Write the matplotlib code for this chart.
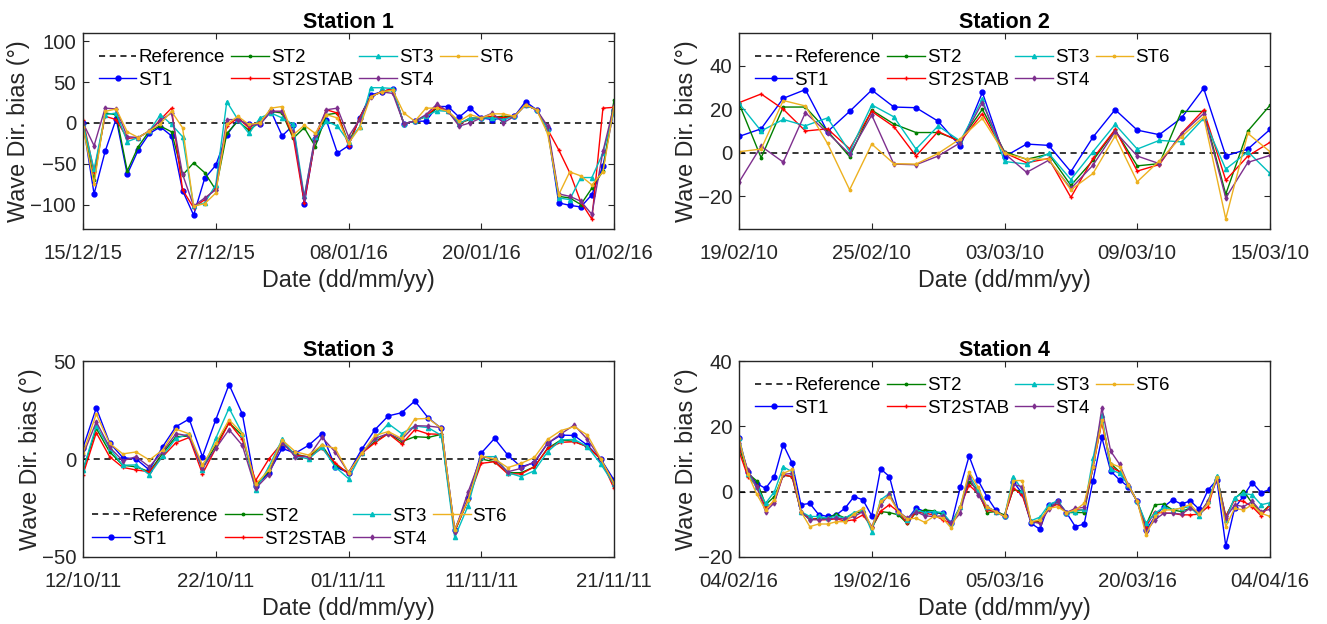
import numpy as np
import pandas as pd
import matplotlib
matplotlib.use('Agg')
import matplotlib.pyplot as plt
import matplotlib.dates as mdates

plt.rcParams['font.family'] = ['Liberation Sans', 'DejaVu Sans']

# ---- Station 1 (daily, 15/12/15 - 01/02/16) ----
s1_start = '2015-12-15'
s1_st1 = [0, -87, -35, 5, -63, -33, -13, -5, -16, -83, -113, -68, -52, -15, 4, -2, -1, 14, -16, -3,
          -99, -20, 3, -37, -28, 6, 34, 38, 42, -1, 2, 2, 20, 20, 7, 18, 6, 4, 6, 8,
          26, 16, -8, -98, -101, -103, -88, -53, 16]
s1_st2 = [-2, -70, 12, 10, -59, -29, -10, -4, -11, -64, -49, -61, -82, -13, 2, -9, 1, 14, 12, -19,
          -6, -29, 10, 12, -25, 6, 32, 38, 40, -1, 2, 8, 18, 14, 0, 4, 6, 7, 8, 8,
          22, 16, -8, -90, -92, -100, -80, -59, 28]
s1_st2stab = [4, -60, 8, 4, -19, -18, -10, 4, 18, -82, -104, -94, -80, -4, 6, -6, 2, 14, 14, -17,
              -98, -20, 16, 12, -28, 6, 32, 38, 42, -1, 2, 8, 20, 14, -2, 6, 6, 8, 6, 8,
              22, 16, -8, -33, -61, -97, -118, 18, 19]
s1_st3 = [-1, -57, 10, 12, -23, -18, -10, 10, -2, -17, -102, -98, -76, 26, 4, -13, 6, 12, 6, -2,
          -90, -17, 2, -4, -23, -5, 43, 43, 42, -1, 2, 8, 15, 14, -1, 6, 6, 6, 4, 8,
          22, 16, -8, -92, -94, -67, -67, -37, 14]
s1_st4 = [0, -28, 18, 17, -17, -18, -10, 3, 12, -63, -102, -92, -82, 4, 4, -3, -2, 14, 14, -11,
          -92, -15, 16, 18, -17, 4, 32, 38, 36, -1, 2, 10, 23, 14, -4, 0, 6, 12, 0, 8,
          22, 16, -4, -87, -90, -96, -112, -35, 21]
s1_st6 = [-5, -75, 14, 17, -11, -18, -10, -1, 14, -6, -102, -99, -86, -2, 8, -2, 0, 18, 20, -15,
          -3, -13, 10, 6, -25, -6, 32, 38, 40, 12, 2, 18, 18, 14, 2, 10, 6, 11, 11, 8,
          22, 16, -13, -88, -60, -65, -76, -60, 20]

# ---- Station 2 (daily, 19/02/10 - 15/03/10) ----
s2_start = '2010-02-19'
s2_st1 = [7.5, 11, 25, 29, 9.7, 19, 28.8, 21, 20.7, 14.5, 3, 27.7, -1.8, 4, 3.4, -8.7, 7.2, 19.8,
          10.4, 8.3, 16, 29.6, -1.4, 1.7, 10.7]
s2_st2 = [22.7, -2.3, 21, 21, 10, -1.8, 19.6, 13.2, 9.3, 9.3, 5.5, 20, 0.5, -3, -0.6, -15, -3.5,
          10.4, -6, -5, 19, 19, -19, 10, 21.8]
s2_st2stab = [23, 27, 20, 10, 11, 1.8, 19, 12, -1.5, 9.8, 5, 18, 0, -4.6, -2.6, -20.5, -2.6, 10.7,
              -8.4, -5.4, 8.9, 19.6, -12.6, -1.5, 4.8]
s2_st3 = [22.7, 10, 15.3, 12.4, 16, 0.5, 22, 16.5, 1.7, 12.3, 5.4, 24.5, -4, -5.2, -0.3, -12.3, 0.5,
          13, 1.7, 5.7, 5, 15.8, -7.5, 0.5, -9.5]
s2_st4 = [-13.5, 3, -4.3, 18.4, 9.2, -0.6, 17.3, -5.2, -5.5, -1.5, 4.6, 23, -0.3, -9, -3.4, -16.4,
          -5.7, 9.7, -1.5, -5, 8.6, 18, -20.7, -4.4, -1.2]
s2_st6 = [0.5, 1.7, 24, 21.5, 4.3, -17, 4, -5, -5.2, -0.3, 6.4, 15.8, -0.3, -2.8, -3, -17, -9.5,
          7.7, -13.3, -3.7, 7.4, 16.5, -30.3, 8.9, 0.5]

# ---- Station 3 (daily, 12/10/11 - 21/11/11) ----
s3_start = '2011-10-12'
s3_st1 = [5.8, 26, 8.3, 0.7, 0, -5.6, 6.3, 16.5, 20.4, 1.2, 20, 38, 23, -14, -7, 5.4, 3, 7, 13, -4,
          -7, 5, 15, 22, 23.6, 29.6, 21, 15.6, -36, -20, 3, 10.5, 2, -4, -1.9, 8, 12.2, 12, 7, 0, -10.7]
s3_st2 = [-6, 15.6, 3.7, -3.2, -4, -6.5, 2.9, 11.4, 11.7, -4.8, 7, 18.5, 12, -14, -6, 8, 2.4, 1, 7, -3,
          -7, 3, 9, 13, 8.8, 11.4, 11, 12.6, -37, -21, 0, -1.4, -7, -7, -4, 5.4, 9.7, 9, 6.3, 0, -12.5]
s3_st2stab = [-8, 13.4, 1.2, -4.3, -5.6, -6.5, 1.2, 8.3, 11, -7.6, 5.4, 18.5, 10, -11, 0, 8.3, 2, 1,
              5.4, -2, -7.6, 3, 8.3, 13, 7.6, 15, 12.8, 12.6, -37, -21, -2.2, -1.4, -7.6, -7.6, -4,
              5.4, 8.5, 8.8, 6.3, 0, -15]
s3_st3 = [-5.6, 17, 5.4, -3.2, -3, -8, 1.5, 10.5, 12.8, -5.6, 10.5, 26, 13, -16, -4, 10, 1.5, 0, 6, -4,
          -10, 3, 10.5, 18, 13, 16.8, 16, 12, -40, -24, 1.2, 1.2, -7, -9, -6, 3.7, 9.7, 10, 6.3, -2.5, -13]
s3_st4 = [2, 19, 6, -0.9, 1.2, -4, 3.7, 13, 11.7, -4.8, 5.4, 15, 7, -15, -8, 8.5, 1.2, 1.2, 11, 3.6,
          -7, 3, 10.5, 13, 10, 17, 16.8, 16, -37, -17, 1.2, 0, -6.5, -4.8, -1.4, 8, 12.8, 17.3, 10, 0, -12.5]
s3_st6 = [3, 23, 8, 2.6, 3.6, -0.5, 4.6, 15.3, 12.8, -3, 8, 20, 13, -13, -5.6, 9.7, 3.7, 2, 7, 5.4,
          -7, 3, 12, 14, 10.5, 20.4, 20.7, 15.6, -36, -21, 1.5, 0, -4.4, -2.2, 0.8, 10, 14.5, 16.5, 12.2,
          0, -12.4]

# ---- Station 4 (daily, 04/02/16 - 04/04/16) ----
s4_start = '2016-02-04'
s4_st1 = [16.3, 6, 2.5, 1, 4.6, 14.4, 8.8, -4, -3.6, -7, -7.6, -7.1, -5, -1.5, -2.5, -7.4, 7, 4.6, -5.8,
          -8.6, -5, -6.1, -6.4, -6.6, -9.7, 1.3, 10.9, 3.6, -1.5, -5.6, -7.6, 3, -0.5, -9.7, -11.5, -4,
          -3, -6.4, -10.7, -9.9, 3.4, 16.6, 6.3, 3.6, 1.5, -3, -11.7, -7.6, -4.6, -2.5, -3.8, -2.8, -5.4,
          0.5, 3.6, -16.6, -5.1, -1.3, 2.8, -0.3, 0.7]
s4_st2 = [13.7, 5.6, 3.3, -4, -1.5, 5.1, 4.6, -6.1, -8.6, -8.1, -8.1, -6.9, -8.1, -6.6, -6.1, -11.2, -6.1,
          -6.4, -7.1, -9.7, -6.4, -5.6, -5.9, -7, -9.7, -4.6, 3, 0.5, -6.4, -6.1, -7.1, 0.7, 0, -9.2, -9.2,
          -4.6, -3.6, -6.4, -6.4, -6.4, 7.6, 21.9, 8.6, 6.1, 2, -3, -10.2, -4, -3.8, -5.6, -6.1, -5, -6.9,
          -3, 4.6, -7.6, -2.2, 0.3, -3.6, -6.6, -4]
s4_st2stab = [12.4, 4.6, 1.8, -5.1, -3, 5.1, 4.6, -6.1, -8.1, -8.6, -8.6, -8.3, -9, -8.6, -7.1, -10.9, -6,
              -4, -6.1, -9.7, -6.1, -6.6, -7.1, -8.6, -9.7, -4.6, 2, -0.5, -5.6, -6.1, -7.6, 1, -1, -9.2,
              -9.4, -5.1, -3.8, -6.4, -5.6, -5.6, 7.6, 21.4, 7.6, 6.1, 2, -3, -10.7, -6.1, -6.6, -6.6, -7.1,
              -7.1, -6.9, -4.6, 4.6, -7.6, -2.5, -3, -4.6, -7.4, -4]
s4_st3 = [16.3, 5.5, 1.5, -3.6, 0, 7.6, 6.1, -6.1, -7.6, -7.6, -8.1, -7.5, -8.1, -6.4, -5.6, -12.2, -2.5,
          -0.5, -6.1, -8.6, -5.6, -6.4, -6.1, -6.4, -9.7, -4.6, 5.1, 0.5, -4.6, -6.1, -7.6, 4.6, 0.5, -8.9,
          -7.8, -4, -2.8, -6.4, -6.1, -5.4, 10.2, 23.4, 6.8, 5.6, 2, -3, -9.7, -6.6, -4.8, -5.6, -5, -4.6,
          -7.6, -3, 4.8, -8.6, -1.8, -0.5, -1, -4, -3.4]
s4_st4 = [14.8, 6.6, 1.5, -6.1, -3.4, 5.3, 5.6, -6.1, -8.6, -8.6, -8.4, -8.1, -8.4, -7.6, -6.1, -10.7, -4,
          -0.7, -6.1, -8.1, -6.1, -7.4, -7.6, -7.4, -9.7, -6.6, 4.6, -1, -4.6, -6.1, -7.6, 2.3, 1.5, -9.2,
          -9.7, -5.4, -3, -6.4, -5.1, -4.8, 7.6, 25.6, 12.4, 8.4, 2, -3, -12.2, -8.6, -6.6, -6.6, -6.9, -5,
          -6.6, -3, 3.6, -8.1, -4, -4.6, -3, -6.1, -5.4]
s4_st6 = [16.3, 5.4, -0.7, -5.6, -2.5, 5.6, 6.8, -6.1, -10.7, -9.9, -9.9, -9.2, -9.2, -6.8, -5.1, -11.2, -3,
          -1.5, -6.1, -8.4, -8.1, -9.4, -7.6, -8.1, -11.2, -4.6, 6.1, 1.5, -4.6, -6.1, -7.6, 3.4, 3.4, -9.2,
          -8.6, -5.1, -4.6, -6.4, -5.6, -3.6, 7.6, 21.9, 8.6, 7.6, 2, -3, -13.2, -7.6, -5.6, -5.6, -5, -3.9,
          -6.9, -3.6, 4.6, -10.7, -5.1, -5.6, -4, -6.6, -7.6]

series_names = ['ST1', 'ST2', 'ST2STAB', 'ST3', 'ST4', 'ST6']
series_style = {
    'ST1':     dict(color='#0000FF', marker='o', ms=3.5),
    'ST2':     dict(color='#008000', marker='.', ms=3.5),
    'ST2STAB': dict(color='#FF0000', marker='+', ms=3.5),
    'ST3':     dict(color='#00BFBF', marker='^', ms=3),
    'ST4':     dict(color='#7E2F8E', marker='d', ms=2.5),
    'ST6':     dict(color='#EDB120', marker='.', ms=3.5),
}

TICK_FS = 14.7
LABEL_FS = 16.8
TITLE_FS = 15.5
LEGEND_FS = 13.5
INK = '#262626'


def plot_station(ax, title, start, end, step, values, ylim, yticks, legend_loc, legend_pad=0.45):
    dates = pd.date_range(start, periods=len(values[0]), freq='D')
    ax.axhline(0, color='black', linestyle='--', linewidth=1.1, dashes=(4, 3), label='Reference')
    for name, y in zip(series_names, values):
        st = series_style[name]
        ax.plot(dates, y, color=st['color'], marker=st['marker'], markersize=st['ms'],
                linewidth=1.0, label=name)

    ax.set_xlim(pd.Timestamp(start), pd.Timestamp(end))
    ax.set_xticks(pd.date_range(start, end, freq=f'{step}D'))
    ax.xaxis.set_major_formatter(mdates.DateFormatter('%d/%m/%y'))
    ax.set_ylim(*ylim)
    ax.set_yticks(yticks)

    ax.tick_params(direction='in', top=True, right=True, length=4, width=0.8,
                   labelsize=TICK_FS, colors=INK)
    ax.tick_params(axis='x', pad=11)
    ax.tick_params(axis='y', pad=5)
    for sp in ax.spines.values():
        sp.set_color(INK)
        sp.set_linewidth(1.0)

    ax.set_title(title, fontsize=TITLE_FS, fontweight='bold', pad=3.5)
    ax.set_xlabel('Date (dd/mm/yy)', fontsize=LABEL_FS, color=INK, labelpad=4)
    ax.set_ylabel('Wave Dir. bias (°)', fontsize=LABEL_FS, color=INK, labelpad=0)

    ax.legend(loc=legend_loc, ncol=4, frameon=False, fontsize=LEGEND_FS,
              handlelength=2.0, handletextpad=0.1, columnspacing=0.35,
              labelspacing=0.3, borderaxespad=legend_pad)


def main():
    fig = plt.figure(figsize=(13.27, 6.24), dpi=100)
    w, h = 531 / 1327, 196 / 624
    ax1 = fig.add_axes([83 / 1327, 1 - 229 / 624, w, h])
    ax2 = fig.add_axes([739 / 1327, 1 - 229 / 624, w, h])
    ax3 = fig.add_axes([83 / 1327, 1 - 557 / 624, w, h])
    ax4 = fig.add_axes([739 / 1327, 1 - 557 / 624, w, h])

    plot_station(ax1, 'Station 1', s1_start, '2016-02-01', 12,
                 [s1_st1, s1_st2, s1_st2stab, s1_st3, s1_st4, s1_st6],
                 (-130, 110), [-100, -50, 0, 50, 100], 'upper left')
    plot_station(ax2, 'Station 2', s2_start, '2010-03-15', 6,
                 [s2_st1, s2_st2, s2_st2stab, s2_st3, s2_st4, s2_st6],
                 (-35, 55), [-20, 0, 20, 40], 'upper left')
    plot_station(ax3, 'Station 3', s3_start, '2011-11-21', 10,
                 [s3_st1, s3_st2, s3_st2stab, s3_st3, s3_st4, s3_st6],
                 (-50, 50), [-50, 0, 50], 'lower left', legend_pad=0.1)
    plot_station(ax4, 'Station 4', s4_start, '2016-04-04', 15,
                 [s4_st1, s4_st2, s4_st2stab, s4_st3, s4_st4, s4_st6],
                 (-20, 40), [-20, 0, 20, 40], 'upper left')

    fig.savefig('out.png', dpi=100)


if __name__ == '__main__':
    main()
